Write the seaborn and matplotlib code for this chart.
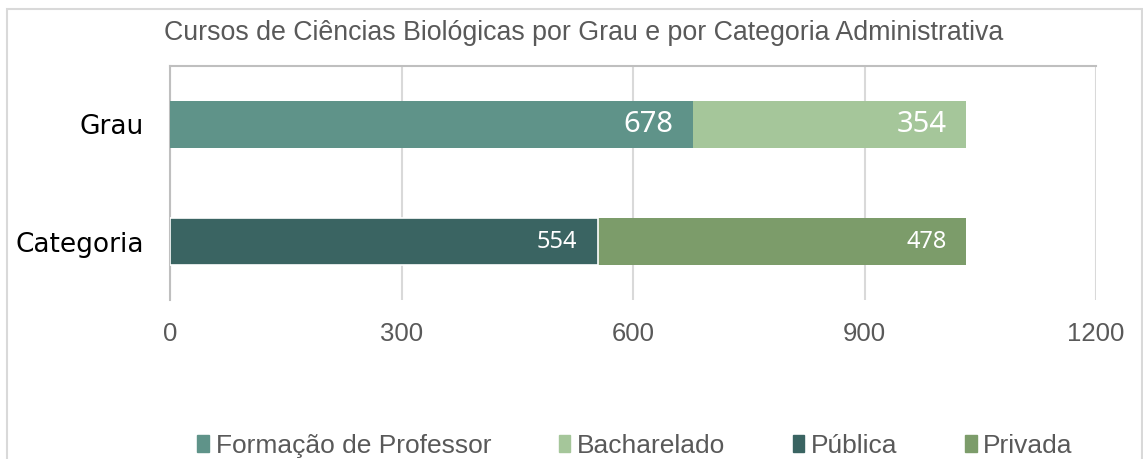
import matplotlib.pyplot as plt
import matplotlib.patches as mpatches
import numpy as np
import pandas as pd
import seaborn as sns

# data
categories = ["Grau", "Categoria"]
grau_series = ["Formação de Professor", "Bacharelado"]
grau_values = [678, 354]
categoria_series = ["Pública", "Privada"]
categoria_values = [554, 478]
x_ticks = [0, 300, 600, 900, 1200]

colors = {
    "Formação de Professor": "#5f9389",
    "Bacharelado": "#a5c69a",
    "Pública": "#3a6462",
    "Privada": "#7c9c6a",
}

sns.set_theme(style="white")
plt.rcParams['font.family'] = ['Liberation Sans', 'DejaVu Sans']

fig = plt.figure(figsize=(11.43, 4.59), dpi=100)
ax = fig.add_axes([170 / 1143, 1 - 300 / 459, 926 / 1143, 234 / 459])

# light frame around the whole chart
fig.patches.append(mpatches.Rectangle((7 / 1143, -0.05), 1134.5 / 1143, 1 - 9.5 / 459 + 0.05,
                                      transform=fig.transFigure, fill=False,
                                      edgecolor="#d9d9d9", linewidth=1.5))

groups = [(categories[0], grau_series, grau_values, 21),
          (categories[1], categoria_series, categoria_values, 17)]

for cat, names, vals, fsize in groups:
    ends = np.cumsum(vals)
    # draw from the longest segment to the shortest so segments stack
    for k in range(len(vals) - 1, -1, -1):
        df = pd.DataFrame({"cat": [cat], "val": [ends[k]]})
        edge = "white" if (cat == "Categoria" and k == 0) else "none"
        sns.barplot(data=df, x="val", y="cat", order=categories, orient="h",
                    color=colors[names[k]], width=0.4, saturation=1,
                    edgecolor=edge, linewidth=1.2, ax=ax, zorder=3)
        ax.annotate(str(vals[k]), xy=(ends[k], categories.index(cat)),
                    xytext=(-14.4, 0), textcoords="offset points",
                    ha="right", va="center", color="white",
                    fontsize=fsize, family=["Noto Sans", "DejaVu Sans"], zorder=5)

ax.set_xlim(0, 1200)
ax.set_ylim(1.5, -0.5)
ax.set_xticks(x_ticks)
ax.set_xticklabels([str(t) for t in x_ticks], fontsize=18.5, color="#595959")
ax.tick_params(axis="x", length=0, pad=15.5)
ax.tick_params(axis="y", length=0, pad=19)
ax.set_yticks(range(len(categories)))
ax.set_yticklabels(categories, fontsize=19, color="black", family=["DejaVu Sans"])
ax.set_xlabel("")
ax.set_ylabel("")
ax.grid(axis="x", color="#d9d9d9", linewidth=1.5, zorder=0)
ax.set_axisbelow(True)
for s in ["right", "bottom"]:
    ax.spines[s].set_visible(False)
for s in ["left", "top"]:
    ax.spines[s].set_color("#bfbfbf")
    ax.spines[s].set_linewidth(1.5)

fig.text(584 / 1143, 1 - 33 / 459, "Cursos de Ciências Biológicas por Grau e por Categoria Administrativa",
         ha="center", va="center", fontsize=19.3, color="#595959")

handles = [mpatches.Patch(color=colors[n]) for n in grau_series + categoria_series]
fig.legend(handles, grau_series + categoria_series, loc="center", ncol=4,
           bbox_to_anchor=(635 / 1143, 1 - 446 / 459), frameon=False,
           fontsize=19, labelcolor="#595959", handlelength=0.45, handleheight=0.6,
           handletextpad=0.25, columnspacing=2.55, borderaxespad=0)

fig.savefig("out.png", dpi=100)
